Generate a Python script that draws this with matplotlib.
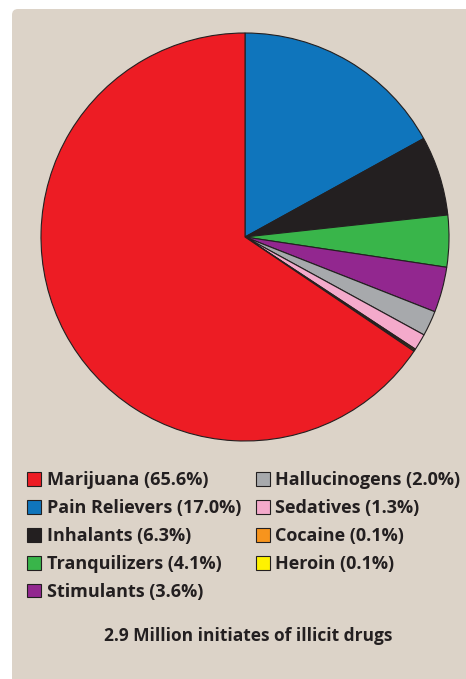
import matplotlib.pyplot as plt
from matplotlib.patches import FancyBboxPatch

# --- data ---
drugs = ['Pain Relievers', 'Inhalants', 'Tranquilizers', 'Stimulants',
         'Hallucinogens', 'Sedatives', 'Cocaine', 'Heroin', 'Marijuana']
shares = [17.0, 6.3, 4.1, 3.6, 2.0, 1.3, 0.1, 0.1, 65.6]
colors = ['#0f75bc', '#231f20', '#39b54a', '#92278f',
          '#a7a9ac', '#f4aacb', '#f7941d', '#fff200', '#ed1c24']
legend_order = ['Marijuana', 'Pain Relievers', 'Inhalants', 'Tranquilizers', 'Stimulants',
                'Hallucinogens', 'Sedatives', 'Cocaine', 'Heroin']
caption = '2.9 Million initiates of illicit drugs'

plt.rcParams['font.family'] = ['Open Sans', 'DejaVu Sans']

W, H = 466, 679
fig = plt.figure(figsize=(W / 100, H / 100), dpi=100)
fig.patch.set_facecolor('white')

# beige panel with rounded top-left corner
bg = fig.add_axes([0, 0, 1, 1])
bg.set_xlim(0, W)
bg.set_ylim(H, 0)
bg.axis('off')
bg.add_patch(FancyBboxPatch((12, 9), W - 12 + 20, H, boxstyle='round,pad=0,rounding_size=6',
                            fc='#dcd3c8', ec='none'))

# --- pie ---
cx, cy, r = 245, 237, 204
ax = fig.add_axes([(cx - r) / W, (H - cy - r) / H, 2 * r / W, 2 * r / H])
wedges, _ = ax.pie(shares, colors=colors, startangle=90, counterclock=False,
                   wedgeprops=dict(edgecolor='#231f20', linewidth=0.8))
ax.set_xlim(-1, 1)
ax.set_ylim(-1, 1)
ax.set_aspect('equal')
ax.axis('off')

# --- legend ---
lookup = dict(zip(drugs, zip(wedges, shares)))
handles = []
labels = []
for name in legend_order:
    w, s = lookup[name]
    handles.append(plt.Rectangle((0, 0), 1, 1, fc=w.get_facecolor(), ec='#231f20', lw=0.8))
    labels.append(f'{name} ({s:.1f}%)')
leg = fig.legend(handles, labels, ncol=2, loc='upper left',
                 bbox_to_anchor=(20 / W, 1 - 464 / H), frameon=False,
                 prop=dict(weight='bold', size=13), handlelength=0.78, handleheight=0.78,
                 handletextpad=0.3, labelspacing=0.55, columnspacing=0.8,
                 borderaxespad=0)
for t in leg.get_texts():
    t.set_color('#231f20')

fig.text(248 / W, 1 - 636 / H, caption, ha='center', va='center',
         fontsize=12.5, fontweight='bold', color='#231f20')

fig.savefig('out.png', dpi=100)
